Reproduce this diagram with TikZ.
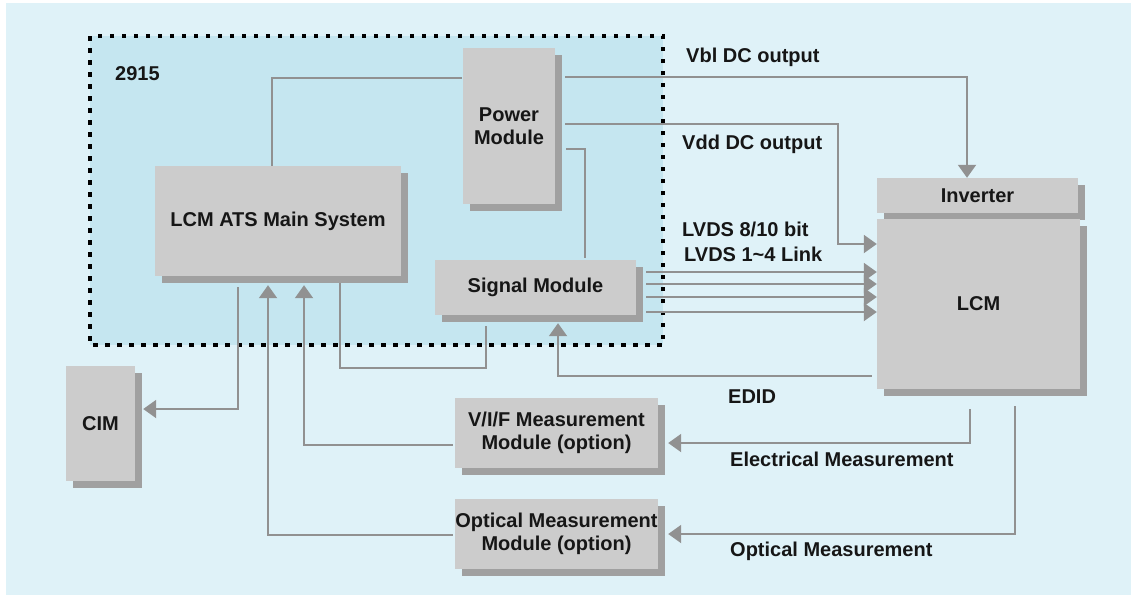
\documentclass[tikz,border=0pt]{standalone}
\usepackage{fontspec}
\setmainfont{Liberation Sans}
\usepackage{tikz}
\usetikzlibrary{arrows.meta,shadows}
\definecolor{bgblue}{RGB}{223,242,248}
\definecolor{inblue}{RGB}{197,230,240}
\definecolor{boxgray}{RGB}{204,204,204}
\definecolor{shadegray}{RGB}{160,160,160}
\definecolor{wiregray}{RGB}{145,145,145}
\definecolor{inkblack}{RGB}{22,22,22}

\begin{document}
\begin{tikzpicture}[x=1pt, y=-1pt,
  every node/.style={text=inkblack, font=\fontsize{20}{23}\selectfont\bfseries},
  block/.style={fill=boxgray, inner sep=0pt, align=center,
    drop shadow={shadow xshift=7pt, shadow yshift=-7pt, opacity=1, fill=shadegray}},
  wire/.style={draw=wiregray, line width=2pt},
  arr/.style={wire, -{Triangle[width=18pt,length=13pt]}},
  lbl/.style={anchor=west, inner sep=0pt}]
 \useasboundingbox (0,0) rectangle (1131,595);
 \fill[white] (0,0) rectangle (1131,595);
 \fill[bgblue] (6,3) rectangle (1131,595);
 % 2915 frame
 \fill[inblue] (90,36) rectangle (663,345);
 \draw[black, line width=4.5pt, dash pattern=on 4.5pt off 7.5pt] (90,36) rectangle (663,345);
 \node[lbl] (t2915) at (115,74) {2915};

 \node[block, minimum width=246pt, minimum height=110pt] (main) at (278,221) {LCM ATS Main System};
 \node[block, minimum width=92pt, minimum height=156pt] (power) at (509,126) {Power\\Module};
 \node[block, minimum width=201pt, minimum height=55pt] (signal) at (535.5,287.5) {Signal Module};
 \node[block, minimum width=201pt, minimum height=35pt] (inverter) at (977.5,195.5) {Inverter};
 \node[block, minimum width=203pt, minimum height=170pt] (lcm) at (978.5,304) {LCM};
 \node[block, minimum width=69pt, minimum height=115pt] (cim) at (100.5,423.5) {CIM};
 \node[block, minimum width=203pt, minimum height=70pt] (vif) at (556.5,433) {V/I/F Measurement\\Module (option)};
 \node[block, minimum width=203pt, minimum height=70pt] (opt) at (556.5,534) {Optical Measurement\\Module (option)};

 \node[lbl] (vbl) at (686,57) {Vbl DC output};
 \node[lbl] (vdd) at (682,144) {Vdd DC output};
 \node[lbl] (lvdsa) at (682,229) {LVDS 8/10 bit};
 \node[lbl] (lvdsb) at (684,254) {LVDS 1\textasciitilde4 Link};
 \node[lbl] (edid) at (728,397) {EDID};
 \node[lbl] (elec) at (730,459) {Electrical Measurement};
 \node[lbl] (optm) at (730,551) {Optical Measurement};

 % connectors
 \draw[wire, shorten >=1pt] (main.north -| 272,0) |- (power.west |- 0,78);
 \draw[arr, shorten <=10pt] (power.east |- 0,77) -| (inverter.north -| 967,0);
 \draw[arr, shorten <=10pt] (power.east |- 0,124) -| (838,244) -- (lcm.west |- 0,244);
 \draw[wire, shorten <=11pt, shorten >=2pt] (power.east |- 0,149) -| (signal.north -| 585,0);
 \foreach \yy in {272,284,297,312}
  \draw[arr, shorten <=10pt] (signal.east |- 0,\yy) -- (lcm.west |- 0,\yy);
 \draw[arr, shorten <=5pt, shorten >=8pt] (lcm.west |- 0,376) -| (signal.south -| 558,0);
 \draw[wire, shorten <=7pt, shorten >=11pt] (main.south -| 340,0) |- (486,368) -- (signal.south -| 486,0);
 \draw[arr, shorten <=11pt, shorten >=8pt] (main.south -| 238,0) |- (cim.east |- 0,409);
 \draw[arr, shorten <=2pt, shorten >=9pt] (opt.west |- 0,535) -| (main.south -| 268,0);
 \draw[arr, shorten <=2pt, shorten >=9pt] (vif.west |- 0,445) -| (main.south -| 304,0);
 \draw[arr, shorten <=20pt, shorten >=10pt] (lcm.south -| 970,0) |- (vif.east |- 0,443);
 \draw[arr, shorten <=17pt, shorten >=10pt] (lcm.south -| 1015,0) |- (opt.east |- 0,534);
\end{tikzpicture}
\end{document}
